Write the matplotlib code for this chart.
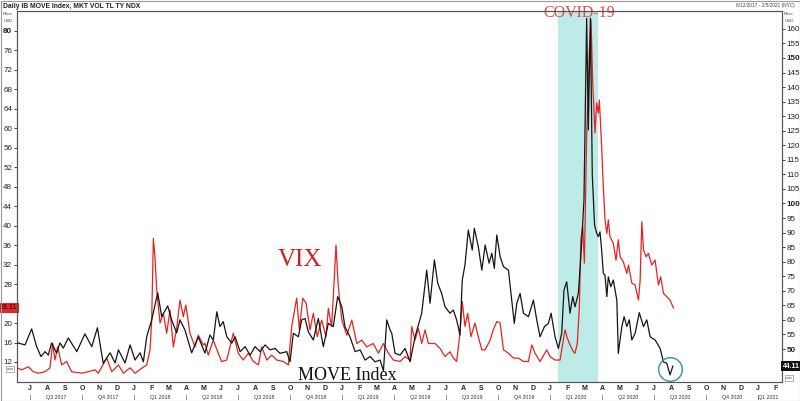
import matplotlib
matplotlib.use("Agg")
import matplotlib.pyplot as plt
from matplotlib.patches import Rectangle

# ---- data (time in decimal years) ----
move_t = [2017.436, 2017.476, 2017.508, 2017.532, 2017.553, 2017.572, 2017.588, 2017.604, 2017.628, 2017.644,
          2017.660, 2017.684, 2017.725, 2017.764, 2017.797, 2017.824, 2017.852, 2017.885, 2017.909, 2017.925,
          2017.957, 2017.981, 2018.005, 2018.029, 2018.045, 2018.061, 2018.085, 2018.114, 2018.133, 2018.162,
          2018.181, 2018.205, 2018.221, 2018.245, 2018.277, 2018.309, 2018.341, 2018.365, 2018.381, 2018.398,
          2018.413, 2018.429, 2018.446, 2018.470, 2018.486, 2018.510, 2018.534, 2018.558, 2018.582, 2018.606,
          2018.630, 2018.654, 2018.678, 2018.702, 2018.734, 2018.750, 2018.766, 2018.790, 2018.806, 2018.822,
          2018.838, 2018.862, 2018.886, 2018.910, 2018.934, 2018.958, 2018.979, 2018.999, 2019.014, 2019.038,
          2019.063, 2019.087, 2019.111, 2019.135, 2019.159, 2019.183, 2019.199, 2019.215, 2019.231, 2019.239,
          2019.255, 2019.279, 2019.303, 2019.327, 2019.351, 2019.383, 2019.407, 2019.423, 2019.444, 2019.460,
          2019.479, 2019.495, 2019.519, 2019.535, 2019.551, 2019.567, 2019.578, 2019.591, 2019.607, 2019.626,
          2019.636, 2019.655, 2019.672, 2019.688, 2019.707, 2019.720, 2019.732, 2019.744, 2019.760, 2019.776,
          2019.800, 2019.816, 2019.828, 2019.840, 2019.856, 2019.872, 2019.896, 2019.920, 2019.936, 2019.952,
          2019.973, 2019.992, 2020.005, 2020.024, 2020.040, 2020.056, 2020.067, 2020.080, 2020.096, 2020.109,
          2020.120, 2020.136, 2020.148, 2020.157, 2020.163, 2020.176, 2020.184, 2020.194, 2020.203, 2020.214,
          2020.224, 2020.232, 2020.240, 2020.248, 2020.256, 2020.264, 2020.273, 2020.280, 2020.292, 2020.304,
          2020.321, 2020.328, 2020.345, 2020.356, 2020.369, 2020.381, 2020.393, 2020.409, 2020.429, 2020.449,
          2020.465, 2020.481, 2020.505, 2020.529, 2020.545, 2020.561, 2020.577, 2020.590]
move_v = [52.2, 51.4, 56.9, 50.8, 47.4, 49.1, 47.9, 52.1, 48.6, 52.1,
          50.3, 53.8, 49.1, 55.2, 50.8, 57.3, 45.1, 48.7, 45.2, 49.7,
          45.2, 51.4, 46.2, 48.7, 45.6, 54.2, 60.0, 69.3, 61.1, 64.8,
          60.0, 55.5, 60.0, 56.5, 48.7, 54.2, 48.6, 54.8, 53.1, 62.8,
          57.7, 59.4, 54.2, 52.0, 54.2, 49.1, 50.8, 47.9, 50.8, 49.1,
          51.4, 49.7, 50.2, 48.5, 49.1, 45.6, 55.4, 54.2, 60.0, 60.5,
          55.9, 53.1, 60.5, 50.8, 58.8, 57.7, 68.0, 64.5, 57.7, 54.2,
          49.1, 49.7, 46.2, 47.4, 45.6, 46.2, 42.5, 60.0, 56.5, 55.4,
          48.5, 47.9, 50.2, 45.6, 54.2, 62.3, 77.1, 65.7, 80.6, 72.6,
          69.1, 64.5, 62.3, 63.4, 60.0, 54.8, 73.7, 78.9, 90.9, 84.0,
          91.5, 85.2, 77.1, 85.7, 79.5, 82.9, 77.7, 89.2, 81.7, 78.3,
          77.1, 66.8, 58.8, 65.7, 69.1, 62.3, 61.1, 66.8, 60.0, 54.2,
          57.7, 58.8, 62.3, 54.2, 50.2, 55.4, 70.3, 73.1, 62.3, 68.0,
          64.5, 69.1, 81.7, 93.2, 101.2, 163.6, 125.3, 163.7, 109.8, 92.6,
          89.8, 88.6, 90.3, 84.0, 76.0, 75.4, 68.0, 74.8, 71.4, 73.7,
          66.8, 48.5, 57.7, 61.1, 57.7, 60.0, 53.1, 55.4, 62.5, 57.7,
          60.0, 54.2, 53.1, 50.2, 45.6, 45.1, 41.1, 44.11]

vix_t = [2017.436, 2017.460, 2017.492, 2017.516, 2017.540, 2017.572, 2017.596, 2017.609, 2017.620, 2017.633,
         2017.652, 2017.676, 2017.700, 2017.749, 2017.780, 2017.813, 2017.828, 2017.869, 2017.893, 2017.925,
         2017.949, 2017.981, 2018.005, 2018.037, 2018.061, 2018.077, 2018.085, 2018.093, 2018.101, 2018.109,
         2018.125, 2018.141, 2018.157, 2018.173, 2018.189, 2018.205, 2018.221, 2018.237, 2018.249, 2018.269,
         2018.293, 2018.309, 2018.333, 2018.341, 2018.357, 2018.381, 2018.405, 2018.421, 2018.446, 2018.477,
         2018.501, 2018.525, 2018.550, 2018.574, 2018.598, 2018.614, 2018.638, 2018.662, 2018.686, 2018.718,
         2018.742, 2018.758, 2018.782, 2018.795, 2018.811, 2018.827, 2018.846, 2018.862, 2018.881, 2018.902,
         2018.923, 2018.934, 2018.950, 2018.958, 2018.971, 2018.982, 2018.999, 2019.023, 2019.047, 2019.071,
         2019.095, 2019.119, 2019.150, 2019.175, 2019.199, 2019.223, 2019.247, 2019.279, 2019.303, 2019.327,
         2019.335, 2019.351, 2019.367, 2019.383, 2019.399, 2019.415, 2019.447, 2019.471, 2019.495, 2019.519,
         2019.535, 2019.551, 2019.567, 2019.578, 2019.591, 2019.604, 2019.620, 2019.639, 2019.655, 2019.672,
         2019.688, 2019.712, 2019.727, 2019.744, 2019.760, 2019.776, 2019.800, 2019.824, 2019.848, 2019.872,
         2019.896, 2019.912, 2019.928, 2019.952, 2019.984, 2020.000, 2020.024, 2020.048, 2020.056, 2020.072,
         2020.083, 2020.096, 2020.112, 2020.120, 2020.131, 2020.141, 2020.148, 2020.157, 2020.165, 2020.176,
         2020.189, 2020.197, 2020.205, 2020.216, 2020.224, 2020.232, 2020.237, 2020.248, 2020.256, 2020.264,
         2020.273, 2020.280, 2020.288, 2020.304, 2020.317, 2020.328, 2020.337, 2020.352, 2020.369, 2020.377,
         2020.393, 2020.409, 2020.425, 2020.433, 2020.441, 2020.449, 2020.462, 2020.473, 2020.489, 2020.505,
         2020.521, 2020.532, 2020.545, 2020.561, 2020.577, 2020.593]
vix_v = [10.8, 10.4, 11.0, 10.0, 9.7, 10.0, 10.8, 15.8, 12.4, 15.1,
         11.4, 12.1, 10.0, 9.7, 10.0, 10.4, 9.7, 12.8, 10.0, 11.4,
         9.7, 10.8, 9.7, 10.7, 11.4, 14.5, 20.6, 37.4, 33.4, 26.8,
         20.0, 22.0, 17.9, 22.7, 15.1, 18.9, 24.7, 21.3, 23.7, 17.9,
         15.1, 17.5, 15.5, 15.8, 13.4, 16.5, 13.8, 12.1, 12.4, 17.9,
         13.8, 12.4, 13.8, 12.1, 11.4, 15.1, 12.4, 13.4, 12.4, 12.1,
         11.4, 19.3, 25.1, 18.6, 25.1, 24.1, 18.6, 22.0, 17.2, 20.6,
         17.2, 23.0, 19.3, 25.4, 36.0, 27.5, 20.6, 17.5, 20.6, 15.8,
         16.5, 15.1, 15.8, 13.8, 15.8, 13.8, 12.4, 12.1, 13.1, 12.4,
         19.3, 16.5, 18.9, 15.8, 18.6, 15.8, 15.8, 14.8, 13.1, 14.1,
         12.8, 12.1, 17.9, 24.4, 19.3, 22.0, 17.2, 20.0, 17.2, 14.5,
         14.5, 16.5, 18.6, 20.3, 20.0, 14.5, 13.8, 12.8, 12.8, 12.1,
         12.1, 15.5, 13.8, 12.1, 14.5, 13.1, 12.4, 12.4, 14.5, 18.6,
         16.9, 15.5, 14.1, 13.8, 15.8, 23.4, 37.1, 39.8, 32.3, 58.3,
         76.1, 82.2, 69.3, 59.0, 65.2, 63.1, 65.8, 56.2, 48.0, 41.2,
         38.4, 41.2, 37.7, 36.4, 32.9, 37.1, 33.6, 32.6, 30.2, 31.9,
         28.2, 27.8, 24.7, 28.8, 40.8, 35.0, 33.6, 34.3, 31.9, 32.9,
         27.8, 29.5, 26.1, 25.4, 24.7, 23.11]

vix_ticks = list(range(12, 84, 4))
move_ticks = list(range(50, 165, 5))
month_letters = ["J", "F", "M", "A", "M", "J", "J", "A", "S", "O", "N", "D"]
covid_span = (2020.038, 2020.231)
vix_last = "23.11"
move_last = "44.11"

RED = "#e5231f"
BLACK = "#151515"

fig = plt.figure(figsize=(8.0, 4.01), dpi=100)
W, H = 800.0, 401.0
ax = fig.add_axes([17 / W, 19 / H, 765 / W, 371 / H])
ax2 = ax.twinx()

xmin, xmax = 2017.4375, 2021.115
ax.set_xlim(xmin, xmax)
ax.set_ylim(7.89, 84.07)
ax2.set_ylim(38.66, 166.15)

ax.axvspan(*covid_span, color="#bdebe7", zorder=0, lw=0)
ax.plot(vix_t, vix_v, color=RED, lw=0.9, zorder=3)
ax2.plot(move_t, move_v, color=BLACK, lw=0.9, zorder=3)

for a in (ax, ax2):
    for s in a.spines.values():
        s.set_color("#555555")
        s.set_linewidth(0.8)

ax.set_xticks([])
ax.set_yticks(vix_ticks)
# the 24 label sits behind the last-value marker in the reference
ax.set_yticklabels(["" if v == 24 else str(v) for v in vix_ticks], fontsize=5.8, family="Liberation Sans")
ax.tick_params(axis="y", length=2.5, width=0.6, pad=1, colors="#222222")
ax2.set_yticks(move_ticks)
ax2.set_yticklabels([str(v) for v in move_ticks], fontsize=5.8, family="Liberation Sans")
ax2.tick_params(axis="y", length=2.5, width=0.6, pad=1, colors="#222222")
for lbl in ax.get_yticklabels():
    if lbl.get_text() in ("80",):
        lbl.set_fontweight("bold")
for lbl in ax2.get_yticklabels():
    if lbl.get_text() in ("150", "100", "50"):
        lbl.set_fontweight("bold")

# month letters and quarter labels
xt = ax.get_xaxis_transform()
for yr in range(2017, 2022):
    for m in range(1, 13):
        t = yr + (m - 1) / 12
        if xmin < t < xmax:
            ax.text(t, -6 / 371, month_letters[m - 1], transform=xt, ha="center", va="center",
                    fontsize=5.0, family="Liberation Sans", fontweight="bold", color="#222222")
            if m in (1, 4, 7, 10):
                q = (m - 1) // 3 + 1
                ax.text(t, -15 / 371, "|", transform=xt, ha="center", va="center",
                        fontsize=4.0, color="#333333", family="Liberation Sans")
                qc = t + 0.125
                if qc > xmax - 0.05:
                    qc = t + 0.05
                ax.text(qc, -15 / 371, f"Q{q} {yr}", transform=xt, ha="center", va="center",
                        fontsize=3.8, family="Liberation Sans", color="#333333")

# header texts
fig.text(3 / W, 1 - 6 / H, "Daily IB MOVE Index, MKT VOL TL TY NDX", fontsize=4.9,
         family="Liberation Sans", fontweight="bold", va="center", ha="left", color="#222222")
fig.text(795 / W, 1 - 6 / H, "6/12/2017 - 2/5/2021 (NYC)", fontsize=3.4,
         family="Liberation Sans", va="center", ha="right", color="#444444")
for xx in (8, 789):
    fig.text(xx / W, 1 - 14 / H, "Price", fontsize=3.2, family="Liberation Sans",
             ha="center", va="center", color="#444444")
    fig.text(xx / W, 1 - 21 / H, "USD", fontsize=3.2, family="Liberation Sans",
             ha="center", va="center", color="#444444")

# last-value markers
ax.text(-8.5 / 765, 23.11, vix_last, transform=ax.get_yaxis_transform(),
        ha="center", va="center", fontsize=5.0, fontweight="bold", color="#5a0000",
        family="Liberation Sans",
        bbox=dict(boxstyle="square,pad=0.2", fc="#e8262a", ec="none"), zorder=10, clip_on=False)
ax2.text(1 + 9 / 765, 44.11, move_last, transform=ax2.get_yaxis_transform(),
         ha="center", va="center", fontsize=5.0, fontweight="bold", color="white",
         family="Liberation Sans",
         bbox=dict(boxstyle="square,pad=0.2", fc="#111111", ec="none"), zorder=10, clip_on=False)
for (bx, by) in ((5, 366), (784, 375)):
    fig.text((bx + 5) / W, 1 - (by + 3) / H, "auto", fontsize=2.6, family="Liberation Sans",
             ha="center", va="center", color="#555555",
             bbox=dict(boxstyle="square,pad=0.2", fc="white", ec="#777777", lw=0.4))

# annotations
ax.text(2020.14, 83.6, "COVID-19", ha="center", va="center", fontsize=11.5,
        family="Liberation Serif", color="#e04b4b", zorder=10, clip_on=False)
ax.text(2018.796, 32.9, "VIX", ha="center", va="center", fontsize=18,
        family="Liberation Serif", color="#d42020", zorder=10)
ax2.text(2019.024, 41.0, "MOVE Index", ha="center", va="center", fontsize=13,
         family="Liberation Serif", color="#111111", zorder=10)
ax2.plot([2020.577], [43.1], marker="o", ms=17, mfc="none", mec="#2a9a93", mew=1.0, zorder=9)

# outer border
fig.patches.append(Rectangle((0.5 / W, 0.5 / H), 1 - 1 / W, 1 - 1 / H, transform=fig.transFigure,
                             fill=False, ec="#999999", lw=0.8))

fig.savefig("out.png", dpi=100)
